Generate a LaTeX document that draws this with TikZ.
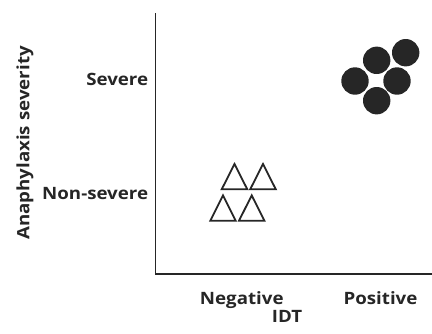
\documentclass[tikz,border=0pt]{standalone}
\usepackage{fontspec}
\setmainfont{Open Sans}[BoldFeatures={FakeStretch=1.1}]
\begin{document}
\begin{tikzpicture}[x=1pt,y=-1pt,
  lbl/.style={font=\bfseries\fontsize{17}{19}\selectfont, inner sep=0pt, text=black!85},
  dot/.style={circle, fill=black!85, minimum size=27.4pt, inner sep=0pt},
  tri/.style={draw=black!85, line width=1.8pt, line join=miter}]
\useasboundingbox (0,0) rectangle (432,333);
\coordinate (top) at (155.7,13);
\coordinate (orig) at (155.7,274);
\coordinate (right) at (432,274);
\draw[line width=1.3pt, black!85] (top) -- (orig) -- (right);
% circles
\node[dot] (c1) at (405.7,52.7) {};
\node[dot] (c2) at (376.7,60.3) {};
\node[dot] (c3) at (355,81) {};
\node[dot] (c4) at (397,81) {};
\node[dot] (c5) at (376.7,100.7) {};
% triangles
\draw[tri] (221.7,189.3) -- (234.5,164) -- (247.3,189.3) -- cycle;
\draw[tri] (250.2,189.3) -- (263,164) -- (275.8,189.3) -- cycle;
\draw[tri] (210.3,220.7) -- (223,195.4) -- (235.7,220.7) -- cycle;
\draw[tri] (239,220.7) -- (251.7,195.4) -- (264.4,220.7) -- cycle;
% labels
\node[lbl, anchor=base east] (sev) at (148.3,85.5) {Severe};
\node[lbl, anchor=base east] (nsev) at (148.3,199.5) {Non-severe};
\node[lbl, rotate=90, anchor=base] (yax) at (29.5,143) {Anaphylaxis severity};
\node[lbl, anchor=base] (neg) at (241.8,304.5) {Negative};
\node[lbl, anchor=base] (pos) at (380.5,304.5) {Positive};
\node[lbl, anchor=base] (idt) at (287,322) {IDT};
\end{tikzpicture}
\end{document}
